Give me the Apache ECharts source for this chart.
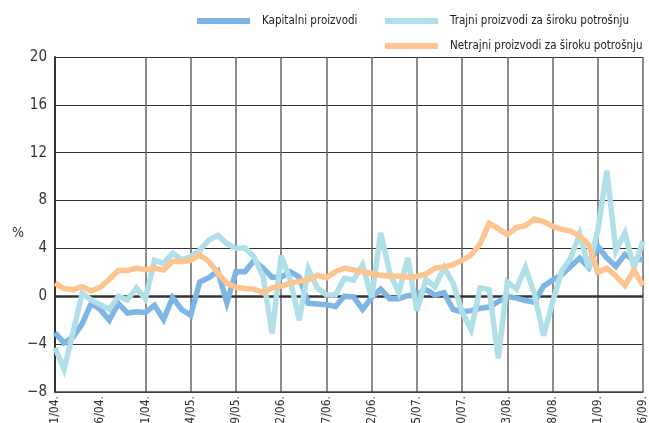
<!DOCTYPE html>
<html>
<head>
<meta charset="utf-8">
<script src="https://cdn.jsdelivr.net/npm/echarts@6/dist/echarts.min.js"></script>
<style>
html,body{margin:0;padding:0;background:#fff;}
#chart{width:649px;height:423px;}
</style>
</head>
<body>
<div id="chart"></div>
<script>
// months 1/04. .. 6/09.
var months = [];
for (var y = 4; y <= 9; y++) {
	for (var m = 1; m <= 12; m++) {
		if (y == 9 && m > 6) break;
		months.push(m + '/0' + y + '.');
	}
}

var yTicks = [-8, -4, 0, 4, 8, 12, 16, 20];

var kapitalni = [
	-3.05, -3.9, -3.4, -2.3, -0.6, -1.1, -2.0, -0.6, -1.4, -1.3,
	-1.35, -0.75, -1.95, -0.1, -1.1, -1.6, 1.2, 1.55, 2.1, -0.55,
	2.05, 2.05, 3.0, 2.35, 1.6, 1.6, 2.05, 1.6, -0.6, -0.65,
	-0.7, -0.85, 0.0, -0.05, -1.1, -0.1, 0.6, -0.2, -0.2, 0.05,
	0.15, 0.55, 0.1, 0.3, -1.1, -1.3, -1.2, -1.0, -0.9, -0.45,
	0.0, -0.15, -0.35, -0.5, 0.85, 1.35, 1.8, 2.5, 3.2, 2.4,
	4.2, 3.2, 2.5, 3.5, 3.05, 3.1
];

var trajni = [
	-4.3, -6.1, -3.0, 0.25, -0.3, -0.7, -1.1, 0.0, -0.3, 0.7,
	-0.2, 3.0, 2.75, 3.6, 3.05, 3.3, 3.85, 4.7, 5.1, 4.4,
	4.0, 4.05, 3.3, 1.65, -3.1, 3.4, 1.35, -2.0, 2.3, 0.7,
	0.1, 0.1, 1.5, 1.35, 2.6, -0.1, 5.3, 2.0, 0.3, 3.2,
	-1.2, 1.4, 0.8, 2.4, 1.1, -1.3, -2.8, 0.7, 0.55, -5.2,
	1.2, 0.6, 2.4, 0.2, -3.3, -0.5, 2.1, 3.2, 5.2, 2.3,
	5.5, 10.5, 3.8, 5.3, 2.4, 4.6
];

var netrajni = [
	1.1, 0.65, 0.55, 0.8, 0.45, 0.75, 1.4, 2.15, 2.15, 2.35,
	2.2, 2.35, 2.2, 2.9, 2.9, 3.0, 3.45, 2.9, 1.95, 1.1,
	0.75, 0.65, 0.6, 0.3, 0.7, 0.85, 1.1, 1.25, 1.4, 1.75,
	1.55, 2.05, 2.35, 2.2, 2.05, 1.9, 1.75, 1.7, 1.7, 1.6,
	1.65, 1.85, 2.35, 2.45, 2.65, 3.0, 3.45, 4.4, 6.1, 5.65,
	5.15, 5.75, 5.9, 6.45, 6.25, 5.85, 5.6, 5.45, 5.05, 4.3,
	2.0, 2.35, 1.7, 0.9, 2.15, 0.9
];

var names = ['Kapitalni proizvodi', 'Trajni proizvodi za široku potrošnju', 'Netrajni proizvodi za široku potrošnju'];
var colors = ['#7db5e4', '#b0dfe7', '#fec48f'];
var font = "'DejaVu Sans Condensed'";

var myChart = echarts.init(document.getElementById('chart'));

function legendAt(left, top, name) {
	return {
		left: left,
		top: top,
		padding: 0,
		data: [name],
		icon: 'rect',
		itemWidth: 53,
		itemHeight: 6,
		itemGap: 10,
		textStyle: { fontFamily: font, fontSize: 11.5, color: '#222', padding: [0, 0, 0, 7] },
		selectedMode: false
	};
}

function lineSeries(i, data) {
	return {
		name: names[i],
		type: 'line',
		data: data,
		symbol: 'none',
		smooth: false,
		lineStyle: { color: colors[i], width: 5.5, join: 'miter', miterLimit: 4 },
		itemStyle: { color: colors[i] },
		z: 3 + i
	};
}

var zeroLine = lineSeries(0, kapitalni);
zeroLine.markLine = {
	silent: true,
	symbol: 'none',
	label: { show: false },
	lineStyle: { color: '#333', width: 2.5, type: 'solid' },
	data: [{ yAxis: 0 }],
	z: 2
};

var option = {
	animation: false,
	backgroundColor: '#fff',
	color: colors,
	legend: [
		legendAt(197, 15, names[0]),
		legendAt(385, 15, names[1]),
		legendAt(385, 40, names[2])
	],
	graphic: [{
		type: 'text',
		left: 12,
		top: 226,
		style: { text: '%', font: '14px ' + font, fill: '#333' }
	}],
	grid: { left: 55, right: 6, top: 57, bottom: 31, outerBoundsMode: 'none', containLabel: false },
	xAxis: {
		type: 'category',
		data: months,
		boundaryGap: false,
		axisLine: { show: true, lineStyle: { color: '#444', width: 1.5 }, onZero: false },
		axisTick: { show: false },
		axisLabel: {
			rotate: 90,
			interval: 4,
			margin: 4,
			fontFamily: font,
			fontSize: 12,
			color: '#333'
		},
		splitLine: {
			show: true,
			interval: function (index) { return index % 5 === 0 && index !== 5; },
			lineStyle: { color: '#666', width: 1.5 }
		}
	},
	yAxis: {
		type: 'value',
		min: yTicks[0],
		max: yTicks[yTicks.length - 1],
		interval: 4,
		axisLine: { show: true, lineStyle: { color: '#333', width: 2 } },
		axisTick: { show: false },
		axisLabel: {
			margin: 8,
			fontFamily: font,
			fontSize: 15,
			color: '#333',
			formatter: function (v) { return v < 0 ? '\u2212' + (-v) : '' + v; }
		},
		splitLine: { show: true, lineStyle: { color: '#333', width: 1.2 } }
	},
	series: [
		zeroLine,
		lineSeries(1, trajni),
		lineSeries(2, netrajni)
	]
};
myChart.setOption(option);
</script>
</body>
</html>
